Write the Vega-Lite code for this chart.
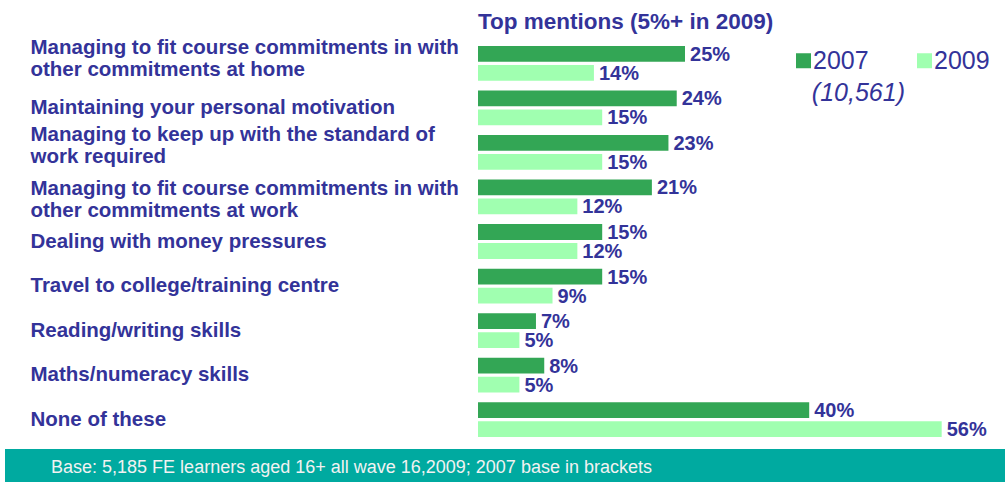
{
  "$schema": "https://vega.github.io/schema/vega-lite/v6.json",
  "padding": {"left": 5, "top": 11, "right": 0, "bottom": 0},
  "background": "white",
  "spacing": 7,
  "config": {"view": {"stroke": null}, "font": "Liberation Sans"},
  "vconcat": [
    {
      "width": 1000,
      "height": 401,
      "title": {"text": "Top mentions (5%+ in 2009)", "anchor": "start", "frame": "group", "dx": 473, "fontSize": 22.5, "fontWeight": "bold", "color": "#333399", "offset": 4},
      "data": {"values": [
        {"item": "Managing to fit course commitments in with\nother commitments at home", "year": "2007", "pct": 0.25},
        {"item": "Managing to fit course commitments in with\nother commitments at home", "year": "2009", "pct": 0.14},
        {"item": "Maintaining your personal motivation", "year": "2007", "pct": 0.24},
        {"item": "Maintaining your personal motivation", "year": "2009", "pct": 0.15},
        {"item": "Managing to keep up with the standard of\nwork required", "year": "2007", "pct": 0.23},
        {"item": "Managing to keep up with the standard of\nwork required", "year": "2009", "pct": 0.15},
        {"item": "Managing to fit course commitments in with\nother commitments at work", "year": "2007", "pct": 0.21},
        {"item": "Managing to fit course commitments in with\nother commitments at work", "year": "2009", "pct": 0.12},
        {"item": "Dealing with money pressures", "year": "2007", "pct": 0.15},
        {"item": "Dealing with money pressures", "year": "2009", "pct": 0.12},
        {"item": "Travel to college/training centre", "year": "2007", "pct": 0.15},
        {"item": "Travel to college/training centre", "year": "2009", "pct": 0.09},
        {"item": "Reading/writing skills", "year": "2007", "pct": 0.07},
        {"item": "Reading/writing skills", "year": "2009", "pct": 0.05},
        {"item": "Maths/numeracy skills", "year": "2007", "pct": 0.08},
        {"item": "Maths/numeracy skills", "year": "2009", "pct": 0.05},
        {"item": "None of these", "year": "2007", "pct": 0.40},
        {"item": "None of these", "year": "2009", "pct": 0.56}
      ]},
      "encoding": {
        "y": {"field": "item", "type": "nominal", "sort": null,
          "scale": {"paddingInner": 0.22, "paddingOuter": 0.11},
          "axis": {"title": null, "domain": false, "ticks": false, "labelAlign": "left", "labelPadding": -25,
            "labelFontSize": 20.5, "labelFontWeight": "bold", "labelColor": "#333399", "labelLimit": 0,
            "labelExpr": "split(datum.label, '\\n')", "labelLineHeight": 22, "labelBaseline": "middle",
            "labelOffset": {"condition": [
              {"test": "indexof(datum.value, 'standard') >= 0", "value": -17},
              {"test": "indexof(datum.value, 'at home') >= 0", "value": -15},
              {"test": "indexof(datum.value, 'at work') >= 0", "value": -8}
            ], "value": 0}}},
        "yOffset": {"field": "year", "type": "nominal", "scale": {"paddingInner": 0.17}},
        "x": {"field": "pct", "type": "quantitative", "scale": {"domain": [-0.57126, 0.63647], "nice": false, "zero": true}, "axis": null}
      },
      "layer": [
        {
          "mark": {"type": "bar"},
          "encoding": {
            "color": {"field": "year", "type": "nominal",
              "scale": {"domain": ["2007", "2009"], "range": ["#33A655", "#A0FFB0"]},
              "legend": {"orient": "none", "legendX": 786, "legendY": 7, "direction": "horizontal", "padding": 0,
                "title": "\u200b\u00a0\u00a0\u00a0(10,561)", "titleOrient": "bottom", "titleAnchor": "start", "titleFontSize": 25,
                "titleFontStyle": "italic", "titleFontWeight": "normal", "titleColor": "#333399", "titlePadding": 7,
                "labelFontSize": 25, "labelColor": "#333399", "labelOffset": -3, "symbolType": "square",
                "symbolSize": 225, "symbolStrokeWidth": 0, "symbolOpacity": 1, "columnPadding": 43,
                "encode": {"symbols": {"update": {"fill": {"signal": "datum.value === '2007' ? '#3B9556' : '#6BC28A'"}}}}}}
          }
        },
        {
          "mark": {"type": "text", "align": "left", "baseline": "middle", "dx": 5, "dy": 1, "fontSize": 20, "fontWeight": "bold", "color": "#333399"},
          "encoding": {"text": {"field": "pct", "type": "quantitative", "format": ".0%"}}
        }
      ]
    },
    {
      "spacing": 0,
      "hconcat": [
        {
          "width": 693,
          "height": 33,
          "view": {"fill": "#00AAA0", "stroke": null},
          "data": {"values": [{"note": "Base: 5,185 FE learners aged 16+ all wave 16,2009; 2007 base in brackets"}]},
          "mark": {"type": "text", "align": "center", "baseline": "middle", "dy": 2, "fontSize": 18, "color": "#F2F2F2"},
          "encoding": {"text": {"field": "note", "type": "nominal"}}
        },
        {
          "width": 307,
          "height": 33,
          "view": {"fill": "#00AAA0", "stroke": null},
          "data": {"values": []},
          "mark": "text",
          "encoding": {}
        }
      ]
    }
  ]
}
